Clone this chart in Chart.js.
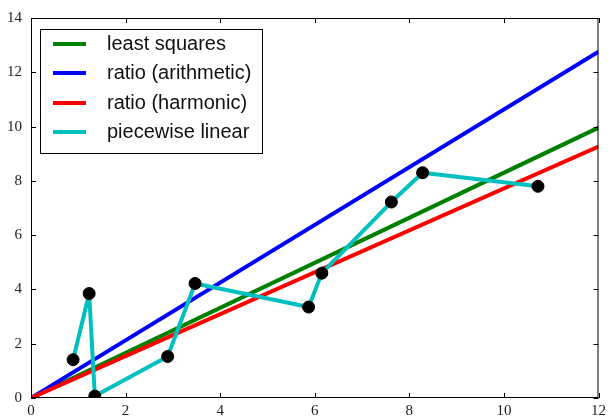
<!DOCTYPE html>
<html lang="en">
<head>
    <meta charset="UTF-8">
    <title>Fits</title>
    <script src="https://cdn.jsdelivr.net/npm/chart.js"></script>
    <style>
        html, body { margin: 0; padding: 0; background: #fff; }
        #wrap { width: 610px; height: 418px; }
    </style>
</head>
<body>
    <div id="wrap"><canvas id="fitChart"></canvas></div>
    <script>
        // observed samples
        const sampleX = [0.89, 1.23, 1.35, 2.89, 3.47, 5.87, 6.15, 7.62, 8.28, 10.72];
        const sampleY = [1.41, 3.85, 0.07, 1.53, 4.22, 3.35, 4.60, 7.22, 8.30, 7.80];

        // fitted lines, evaluated at both ends of the x range
        const fitX = [0, 12];
        const leastSquaresY = [0, 9.96];
        const arithmeticY = [0, 12.76];
        const harmonicY = [0, 9.26];

        const xTicks = [0, 2, 4, 6, 8, 10, 12];
        const yTicks = [0, 2, 4, 6, 8, 10, 12, 14];

        const pairs = (xs, ys) => xs.map((x, i) => ({ x: x, y: ys[i] }));

        // inward ticks on all four sides, matplotlib classic style
        const innerTicks = {
            id: 'innerTicks',
            afterDraw(chart) {
                const { ctx, chartArea: a, scales } = chart;
                ctx.save();
                ctx.strokeStyle = '#000';
                ctx.lineWidth = 1;
                ctx.beginPath();
                xTicks.forEach(v => {
                    const px = Math.round(scales.x.getPixelForValue(v)) + 0.5;
                    ctx.moveTo(px, a.bottom); ctx.lineTo(px, a.bottom - 5);
                    ctx.moveTo(px, a.top); ctx.lineTo(px, a.top + 5);
                });
                yTicks.forEach(v => {
                    const py = Math.round(scales.y.getPixelForValue(v)) + 0.5;
                    ctx.moveTo(a.left, py); ctx.lineTo(a.left + 5, py);
                    ctx.moveTo(a.right, py); ctx.lineTo(a.right - 5, py);
                });
                ctx.stroke();
                ctx.strokeRect(a.left + 0.5, a.top + 0.5, a.right - a.left - 1, a.bottom - a.top - 1);
                ctx.restore();
            }
        };

        // boxed legend in the upper left corner
        const boxLegend = {
            id: 'boxLegend',
            afterDraw(chart) {
                const { ctx, chartArea: a } = chart;
                const items = chart.data.datasets.filter(d => d.inLegend);
                const x0 = a.left + 9, y0 = a.top + 11;
                const w = 222, rowH = 29.3;
                const h = 124;
                ctx.save();
                ctx.fillStyle = '#fff';
                ctx.fillRect(x0, y0, w, h);
                ctx.strokeStyle = '#000';
                ctx.lineWidth = 1;
                ctx.strokeRect(x0 + 0.5, y0 + 0.5, w, h);
                ctx.font = '20px "Liberation Sans", Arial, sans-serif';
                ctx.textBaseline = 'middle';
                items.forEach((d, i) => {
                    const cy = Math.round(y0 + 15 + i * rowH);
                    ctx.strokeStyle = d.borderColor;
                    ctx.lineWidth = 4;
                    ctx.beginPath();
                    ctx.moveTo(x0 + 13, cy);
                    ctx.lineTo(x0 + 46, cy);
                    ctx.stroke();
                    ctx.fillStyle = '#111';
                    ctx.fillText(d.label, x0 + 67, cy);
                });
                ctx.restore();
            }
        };

        const lineSet = (label, ys, color, order) => ({
            label: label,
            data: pairs(fitX, ys),
            showLine: true,
            borderColor: color,
            borderWidth: 4,
            pointRadius: 0,
            inLegend: true,
            order: order
        });

        new Chart(document.getElementById('fitChart'), {
            type: 'scatter',
            data: {
                datasets: [
                    lineSet('least squares', leastSquaresY, '#008000', 5),
                    lineSet('ratio (arithmetic)', arithmeticY, '#0000ff', 4),
                    lineSet('ratio (harmonic)', harmonicY, '#ff0000', 3),
                    {
                        label: 'piecewise linear',
                        data: pairs(sampleX, sampleY),
                        showLine: true,
                        borderColor: '#00bfbf',
                        borderWidth: 4,
                        borderJoinStyle: 'round',
                        pointRadius: 0,
                        inLegend: true,
                        order: 2
                    },
                    {
                        label: 'samples',
                        data: pairs(sampleX, sampleY),
                        showLine: false,
                        pointRadius: 6,
                        pointBackgroundColor: '#000',
                        pointBorderColor: '#000',
                        order: 1
                    }
                ]
            },
            options: {
                responsive: true,
                maintainAspectRatio: false,
                animation: false,
                layout: { padding: { left: 0, right: 10, top: 18, bottom: 0 } },
                plugins: { legend: { display: false }, tooltip: { enabled: false } },
                scales: {
                    x: {
                        type: 'linear',
                        min: 0, max: 12,
                        afterBuildTicks: s => { s.ticks = xTicks.map(v => ({ value: v })); },
                        afterFit: s => { s.height = 20; },
                        grid: { display: false, drawTicks: false },
                        border: { display: false },
                        ticks: {
                            padding: 4,
                            color: '#222',
                            maxRotation: 0,
                            font: { family: '"Liberation Serif", "DejaVu Serif", serif', size: 15 }
                        }
                    },
                    y: {
                        type: 'linear',
                        min: 0, max: 14,
                        afterBuildTicks: s => { s.ticks = yTicks.map(v => ({ value: v })); },
                        afterFit: s => { s.width = 31; },
                        grid: { display: false, drawTicks: false },
                        border: { display: false },
                        ticks: {
                            padding: 9,
                            color: '#222',
                            font: { family: '"Liberation Serif", "DejaVu Serif", serif', size: 15 }
                        }
                    }
                }
            },
            plugins: [innerTicks, boxLegend]
        });
    </script>
</body>
</html>
